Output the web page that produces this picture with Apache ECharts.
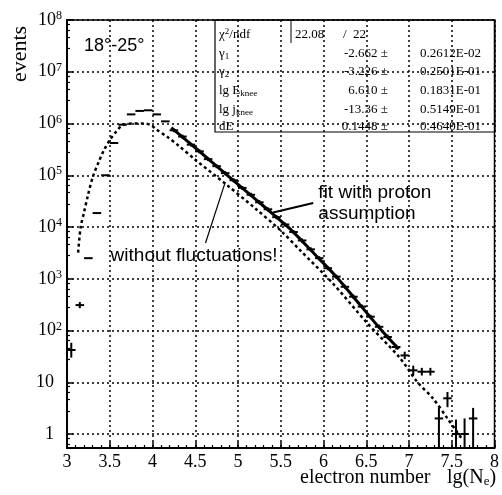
<!DOCTYPE html>
<html>
<head>
<meta charset="utf-8">
<script src="https://cdn.jsdelivr.net/npm/echarts@6/dist/echarts.min.js"></script>
<style>
  html, body { margin: 0; padding: 0; background: #fff; }
  #chart { width: 502px; height: 495px; }
</style>
</head>
<body>
<div id="chart"></div>
<script>
// Shower size spectrum, zenith band 18°-25°: measured bins, fitted spectrum,
// and the same spectrum without shower fluctuations.

// measured bins: centre in lg(Ne), counts, and error-bar bounds (null = no visible bar)
const binCenters = [3.05, 3.15, 3.25, 3.35, 3.45, 3.55, 3.65, 3.75, 3.85, 3.95, 4.05, 4.15,
  4.25, 4.35, 4.45, 4.55, 4.65, 4.75, 4.85, 4.95, 5.05, 5.15, 5.25, 5.35, 5.45, 5.55,
  5.65, 5.75, 5.85, 5.95, 6.05, 6.15, 6.25, 6.35, 6.45, 6.55, 6.65, 6.75, 6.85,
  6.95, 7.05, 7.15, 7.25, 7.35, 7.45, 7.55, 7.65, 7.75];
const binCounts = [42, 310, 2500, 18600, 100000, 420000, 950000, 1500000, 1750000, 1800000, 1500000, 1100000,
  740000, 560000, 390000, 290000, 205000, 150000, 110000, 80000, 57000, 42000, 30000, 22000, 15500, 11200,
  8000, 5500, 3700, 2500, 1600, 1100, 700, 450, 290, 185, 118, 75, 48,
  33, 17, 16, 16, 2, 4.9, 1, 1, 2];
const countLower = [30, 270, null, null, null, null, null, null, null, null, null, null,
  680000, 510000, 360000, 265000, 188000, 137000, 100000, 73000, 52000, 38500, 27500, 20000, 14200, 10200,
  7300, 5000, 3400, 2280, 1460, 1000, 640, 410, 265, 169, 107, 68, 43,
  28, 13.5, 13.5, 13.5, 0.3, 3.3, 0.3, 0.3, 0.3];
const countUpper = [58, 355, null, null, null, null, null, null, null, null, null, null,
  800000, 610000, 420000, 315000, 223000, 163000, 120000, 87000, 62000, 46000, 33000, 24000, 17000, 12200,
  8700, 6000, 4050, 2730, 1750, 1200, 765, 492, 317, 202, 130, 83, 53,
  39, 21, 19, 19, 3.3, 6.5, 1.9, 2.0, 3.2];
const binHalfWidth = 0.05;

// fitted spectrum (proton assumption)
const fitX = [4.22, 4.5, 4.89, 5.2, 5.45, 5.6, 5.9, 6.16, 6.42, 6.68, 6.88];
const fitY = [830000, 340000, 95000, 35000, 15500, 9500, 2950, 1050, 324, 100, 44];

// expected spectrum without fluctuations
const noFlucX = [3.13, 3.16, 3.2, 3.245, 3.3, 3.37, 3.43, 3.5, 3.57, 3.65, 3.77, 3.9, 3.98, 4.04,
  4.18, 4.3, 4.5, 4.85, 5.2, 5.5, 5.73, 6.11, 6.51, 6.89, 7.1, 7.28, 7.45, 7.57, 7.62];
const noFlucY = [3200, 10000, 19500, 41000, 91000, 180000, 300000, 480000, 680000, 930000, 1000000, 1000000, 930000, 780000,
  540000, 380000, 200000, 69000, 23000, 8500, 3500, 810, 140, 30, 10, 4.9, 2.0, 1.05, 0.8];

// fit parameters
const statLabels = ['{t|γ}{sub|1}', '{t|γ}{sub|2}', '{t|lg E}{sub|knee}', '{t|lg j}{sub|knee}', '{t|dE}'];
const statValues = ['-2.662 ±', '-3.226 ±', '6.610 ±', '-13.36 ±', '0.1448 ±'];
const statErrors = ['0.2612E-02', '0.2501E-01', '0.1831E-01', '0.5149E-01', '0.4640E-01'];
const chi2 = '22.08';
const ndf = '22';

const SERIF = 'Liberation Serif, Times New Roman, serif';
const SANS = 'Liberation Sans, Arial, sans-serif';

const binData = binCenters.map((x, i) => [
  x, binCounts[i],
  countLower[i] == null ? binCounts[i] : countLower[i],
  countUpper[i] == null ? binCounts[i] : countUpper[i]
]);

function renderBin(params, api) {
  const x = api.value(0), y = api.value(1), lo = api.value(2), hi = api.value(3);
  const a = api.coord([x - binHalfWidth, y]);
  const b = api.coord([x + binHalfWidth, y]);
  const children = [{
    type: 'line',
    shape: { x1: a[0], y1: a[1], x2: b[0], y2: b[1] },
    style: { stroke: '#000', lineWidth: 2 }
  }];
  if (hi > lo) {
    const p = api.coord([x, lo]);
    const q = api.coord([x, hi]);
    children.push({
      type: 'line',
      shape: { x1: p[0], y1: p[1], x2: q[0], y2: q[1] },
      style: { stroke: '#000', lineWidth: 2 }
    });
  }
  return { type: 'group', children };
}

const gridLine = { show: true, lineStyle: { color: '#000', width: 1.5, type: [2, 3] } };

const chart = echarts.init(document.getElementById('chart'), null, { renderer: 'canvas' });

chart.setOption({
  animation: false,
  backgroundColor: '#fff',
  grid: { left: 67, right: 7, top: 20, bottom: 47, show: true, borderColor: '#000', borderWidth: 1.5 },
  xAxis: {
    type: 'value', min: 3, max: 8, interval: 0.5,
    axisLine: { lineStyle: { color: '#000', width: 2 } },
    axisTick: { inside: true, length: 6, lineStyle: { color: '#000', width: 1.5 } },
    minorTick: { show: true, splitNumber: 5, length: 3, lineStyle: { color: '#000', width: 1.2 } },
    splitLine: gridLine,
    axisLabel: { color: '#000', fontFamily: SERIF, fontSize: 18, margin: 5 }
  },
  yAxis: {
    type: 'log', logBase: 10, min: 0.537, max: 1e8,
    axisLine: { lineStyle: { color: '#000', width: 2 } },
    axisTick: { inside: true, length: 6, lineStyle: { color: '#000', width: 1.5 } },
    minorTick: { show: true, splitNumber: 5, length: 3, lineStyle: { color: '#000', width: 1.2 } },
    splitLine: gridLine,
    axisLabel: {
      color: '#000', margin: 5,
      formatter: function (v) {
        const e = Math.log10(v);
        const n = Math.round(e);
        if (Math.abs(e - n) > 1e-6) return '';
        if (n === 0) return '{b|1}{gap|}';
        if (n === 1) return '{b|10}{gap|}';
        return '{b|10}{s|' + n + '}';
      },
      rich: {
        b: { fontFamily: SERIF, fontSize: 18, color: '#000' },
        s: { fontFamily: SERIF, fontSize: 12, color: '#000', verticalAlign: 'top', padding: [0, 0, 8, 0] },
        gap: { width: 8 }
      }
    }
  },
  series: [
    {
      type: 'line', data: noFlucX.map((x, i) => [x, noFlucY[i]]),
      showSymbol: false, smooth: 0.3, clip: true,
      lineStyle: { color: '#000', width: 2.5, type: [3, 3] }
    },
    {
      type: 'line', data: fitX.map((x, i) => [x, fitY[i]]),
      showSymbol: false, smooth: 0.3, clip: true,
      lineStyle: { color: '#000', width: 3 }
    },
    {
      type: 'custom', data: binData, renderItem: renderBin, clip: true,
      encode: { x: 0, y: 1 }
    }
  ]
});

// annotations anchored in data coordinates
function px(x, y) { return chart.convertToPixel({ gridIndex: 0 }, [x, y]); }

const pZen = px(3.2, 3.2e7);
const pNoFluc = px(3.51, 2750);
const pFit = px(5.94, 4.7e4);
const arrowA0 = px(4.62, 4900), arrowA1 = px(4.85, 73000);
const arrowB0 = px(5.41, 19000), arrowB1 = px(5.88, 29000);

// parameter box
const box = { left: 215, top: 20, right: 495, bottom: 132 };
const rowY = [35, 54, 72, 91, 110, 127];
const textBase = { fontFamily: SERIF, fontSize: 13, fill: '#000' };
const richLabel = {
  t: { fontFamily: SERIF, fontSize: 13, fill: '#000' },
  sub: { fontFamily: SERIF, fontSize: 9, fill: '#000', verticalAlign: 'bottom', padding: [6, 0, 0, 0] },
  sup: { fontFamily: SERIF, fontSize: 9, fill: '#000', verticalAlign: 'top', padding: [0, 0, 6, 0] }
};

const graphics = [
  { type: 'rect', shape: { x: box.left, y: box.top, width: box.right - box.left, height: box.bottom - box.top },
    style: { fill: 'none', stroke: '#000', lineWidth: 1.2 }, z: 10 },
  { type: 'line', shape: { x1: 291, y1: box.top, x2: 291, y2: 43 }, style: { stroke: '#000', lineWidth: 1 }, z: 10 },
  { type: 'text', x: 219, y: rowY[0], z: 10,
    style: { text: '{t|χ}{sup|2}{t|/ndf}', rich: richLabel, verticalAlign: 'middle' } },
  { type: 'text', x: 295, y: rowY[0], z: 10, style: Object.assign({ text: chi2, verticalAlign: 'middle' }, textBase) },
  { type: 'text', x: 343, y: rowY[0], z: 10, style: Object.assign({ text: '/', verticalAlign: 'middle' }, textBase) },
  { type: 'text', x: 353, y: rowY[0], z: 10, style: Object.assign({ text: ndf, verticalAlign: 'middle' }, textBase) }
];
statLabels.forEach((lab, i) => {
  const y = rowY[i + 1];
  graphics.push({ type: 'text', x: 219, y: y, z: 10, style: { text: lab, rich: richLabel, verticalAlign: 'middle' } });
  graphics.push({ type: 'text', x: 388, y: y, z: 10,
    style: Object.assign({ text: statValues[i], align: 'right', verticalAlign: 'middle' }, textBase) });
  graphics.push({ type: 'text', x: 420, y: y, z: 10,
    style: Object.assign({ text: statErrors[i], verticalAlign: 'middle' }, textBase) });
});

graphics.push(
  { type: 'text', x: pZen[0], y: pZen[1], z: 10,
    style: { text: '18°-25°', fontFamily: SANS, fontSize: 18, fill: '#000', verticalAlign: 'middle' } },
  { type: 'text', x: pNoFluc[0], y: pNoFluc[1], z: 10,
    style: { text: 'without fluctuations!', fontFamily: SANS, fontSize: 19, fill: '#000', verticalAlign: 'middle' } },
  { type: 'text', x: pFit[0], y: pFit[1], z: 10,
    style: { text: 'fit with proton\nassumption', fontFamily: SANS, fontSize: 19, lineHeight: 21, fill: '#000', verticalAlign: 'top', padding: [-10, 0, 0, 0] } },
  { type: 'line', z: 10, shape: { x1: arrowA0[0], y1: arrowA0[1], x2: arrowA1[0], y2: arrowA1[1] },
    style: { stroke: '#000', lineWidth: 1.2 } },
  { type: 'line', z: 10, shape: { x1: arrowB0[0], y1: arrowB0[1], x2: arrowB1[0], y2: arrowB1[1] },
    style: { stroke: '#000', lineWidth: 2 } },
  // axis titles
  { type: 'text', x: 20, y: 54, rotation: Math.PI / 2, z: 10,
    style: { text: 'events', fontFamily: SERIF, fontSize: 22, fill: '#000', align: 'center', verticalAlign: 'middle' } },
  { type: 'text', x: 300, y: 478, z: 10,
    style: { text: 'electron number', fontFamily: SERIF, fontSize: 20, fill: '#000', verticalAlign: 'middle' } },
  { type: 'text', x: 447, y: 478, z: 10,
    style: { text: '{t|lg(N}{sub|e}{t|)}', verticalAlign: 'middle',
      rich: {
        t: { fontFamily: SERIF, fontSize: 20, fill: '#000' },
        sub: { fontFamily: SERIF, fontSize: 13, fill: '#000', verticalAlign: 'bottom', padding: [8, 0, 0, 0] }
      } } }
);

chart.setOption({ graphic: graphics });
</script>
</body>
</html>
